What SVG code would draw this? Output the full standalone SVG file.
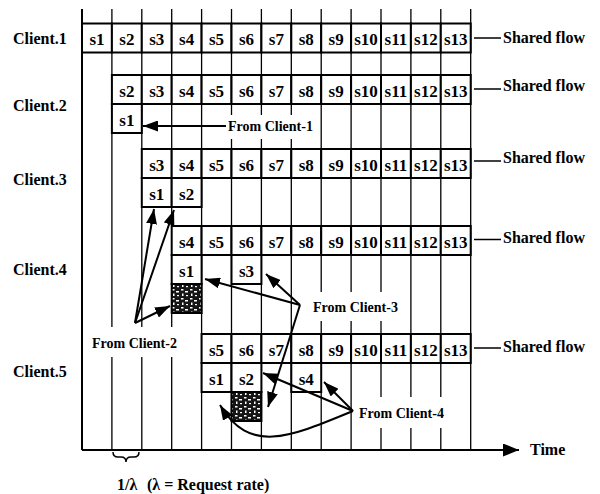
<svg xmlns="http://www.w3.org/2000/svg" width="600" height="494" viewBox="0 0 600 494">
<style>
.grid{stroke:#000;stroke-width:1.3;fill:none}
.axis{stroke:#000;stroke-width:2;fill:none}
.cell{fill:#fff;stroke:#000;stroke-width:2}
.shade{fill:url(#noise);stroke:#000;stroke-width:2}
.c{font-family:"Liberation Serif",serif;font-weight:bold;font-size:17px;text-anchor:middle;fill:#000}
.t{font-family:"Liberation Serif",serif;font-weight:bold;font-size:16px;fill:#000}
.f{font-family:"Liberation Serif",serif;font-weight:bold;font-size:14px;fill:#000}
.bg{fill:#fff;stroke:none}
.arr{stroke:#000;stroke-width:2;fill:none;marker-end:url(#ah)}
.sf{stroke:#000;stroke-width:1.5}
</style>
<defs>
<marker id="ah" viewBox="0 0 15 11" refX="15" refY="5.5" markerWidth="15" markerHeight="11" markerUnits="userSpaceOnUse" orient="auto"><path d="M0,0 L15,5.5 L0,11 Z" fill="#000"/></marker>
<marker id="ahT" viewBox="0 0 16 13" refX="16" refY="6.5" markerWidth="16" markerHeight="13" markerUnits="userSpaceOnUse" orient="auto"><path d="M0,0 L16,6.5 L0,13 Z" fill="#000"/></marker>
<pattern id="noise" width="9" height="9" patternUnits="userSpaceOnUse"><rect width="9" height="9" fill="#151515"/><rect x="1" y="1" width="2.5" height="1.5" fill="#fff"/><rect x="5" y="3" width="3" height="1.5" fill="#fff"/><rect x="2" y="5.5" width="1.5" height="2.5" fill="#fff"/><rect x="6" y="7" width="2" height="1.2" fill="#fff"/></pattern>
</defs>
<rect width="600" height="494" fill="#fff"/>
<g id="timeline">
<path class="grid" d="M111.9,9V450M141.8,9V450M171.7,9V450M201.6,9V450M231.5,9V450M261.4,9V450M291.3,9V450M321.2,9V450M351.1,9V450M381,9V450M410.9,9V450M440.8,9V450M470.7,9V450"/>
<path class="axis" d="M82,9V450"/>
<line class="axis" x1="82" y1="450" x2="519" y2="450" marker-end="url(#ahT)"/>
<text class="t" x="530" y="455">Time</text>
<path class="axis" style="stroke-width:1.5" d="M113,452 Q113,457 118,457 L121,457 Q126,457 126,462 Q126,457 131,457 L134,457 Q139,457 139,452"/>
<text class="t" x="117" y="490">1/λ</text>
<text class="t" x="147" y="490">(λ = Request rate)</text>
</g>
<g id="client1">
<text class="t" x="13" y="44">Client.1</text>
<rect class="cell" x="82" y="23.5" width="29.9" height="29"/>
<rect class="cell" x="111.9" y="23.5" width="29.9" height="29"/>
<rect class="cell" x="141.8" y="23.5" width="29.9" height="29"/>
<rect class="cell" x="171.7" y="23.5" width="29.9" height="29"/>
<rect class="cell" x="201.6" y="23.5" width="29.9" height="29"/>
<rect class="cell" x="231.5" y="23.5" width="29.9" height="29"/>
<rect class="cell" x="261.4" y="23.5" width="29.9" height="29"/>
<rect class="cell" x="291.3" y="23.5" width="29.9" height="29"/>
<rect class="cell" x="321.2" y="23.5" width="29.9" height="29"/>
<rect class="cell" x="351.1" y="23.5" width="29.9" height="29"/>
<rect class="cell" x="381" y="23.5" width="29.9" height="29"/>
<rect class="cell" x="410.9" y="23.5" width="29.9" height="29"/>
<rect class="cell" x="440.8" y="23.5" width="29.9" height="29"/>
<text class="c" x="96.95" y="45">s1</text><text class="c" x="126.85" y="45">s2</text><text class="c" x="156.75" y="45">s3</text><text class="c" x="186.65" y="45">s4</text><text class="c" x="216.55" y="45">s5</text><text class="c" x="246.45" y="45">s6</text><text class="c" x="276.35" y="45">s7</text><text class="c" x="306.25" y="45">s8</text><text class="c" x="336.15" y="45">s9</text><text class="c" x="366.05" y="45">s10</text><text class="c" x="395.95" y="45">s11</text><text class="c" x="425.85" y="45">s12</text><text class="c" x="455.75" y="45">s13</text>
<line class="sf" x1="474" y1="38" x2="501" y2="38"/>
<text class="t" x="503" y="43">Shared flow</text>
</g>
<g id="client2">
<text class="t" x="13" y="111">Client.2</text>
<rect class="cell" x="111.9" y="75" width="29.9" height="29"/>
<rect class="cell" x="141.8" y="75" width="29.9" height="29"/>
<rect class="cell" x="171.7" y="75" width="29.9" height="29"/>
<rect class="cell" x="201.6" y="75" width="29.9" height="29"/>
<rect class="cell" x="231.5" y="75" width="29.9" height="29"/>
<rect class="cell" x="261.4" y="75" width="29.9" height="29"/>
<rect class="cell" x="291.3" y="75" width="29.9" height="29"/>
<rect class="cell" x="321.2" y="75" width="29.9" height="29"/>
<rect class="cell" x="351.1" y="75" width="29.9" height="29"/>
<rect class="cell" x="381" y="75" width="29.9" height="29"/>
<rect class="cell" x="410.9" y="75" width="29.9" height="29"/>
<rect class="cell" x="440.8" y="75" width="29.9" height="29"/>
<rect class="cell" x="111.9" y="104" width="29.9" height="29"/>
<text class="c" x="126.85" y="96.5">s2</text><text class="c" x="156.75" y="96.5">s3</text><text class="c" x="186.65" y="96.5">s4</text><text class="c" x="216.55" y="96.5">s5</text><text class="c" x="246.45" y="96.5">s6</text><text class="c" x="276.35" y="96.5">s7</text><text class="c" x="306.25" y="96.5">s8</text><text class="c" x="336.15" y="96.5">s9</text><text class="c" x="366.05" y="96.5">s10</text><text class="c" x="395.95" y="96.5">s11</text><text class="c" x="425.85" y="96.5">s12</text><text class="c" x="455.75" y="96.5">s13</text>
<text class="c" x="126.85" y="125.5">s1</text>
<line class="sf" x1="474" y1="89" x2="501" y2="89"/>
<text class="t" x="503" y="91">Shared flow</text>
</g>
<g id="client3">
<text class="t" x="13" y="185">Client.3</text>
<rect class="cell" x="141.8" y="149" width="29.9" height="29"/>
<rect class="cell" x="171.7" y="149" width="29.9" height="29"/>
<rect class="cell" x="201.6" y="149" width="29.9" height="29"/>
<rect class="cell" x="231.5" y="149" width="29.9" height="29"/>
<rect class="cell" x="261.4" y="149" width="29.9" height="29"/>
<rect class="cell" x="291.3" y="149" width="29.9" height="29"/>
<rect class="cell" x="321.2" y="149" width="29.9" height="29"/>
<rect class="cell" x="351.1" y="149" width="29.9" height="29"/>
<rect class="cell" x="381" y="149" width="29.9" height="29"/>
<rect class="cell" x="410.9" y="149" width="29.9" height="29"/>
<rect class="cell" x="440.8" y="149" width="29.9" height="29"/>
<rect class="cell" x="141.8" y="178" width="29.9" height="29"/>
<rect class="cell" x="171.7" y="178" width="29.9" height="29"/>
<text class="c" x="156.75" y="170.5">s3</text><text class="c" x="186.65" y="170.5">s4</text><text class="c" x="216.55" y="170.5">s5</text><text class="c" x="246.45" y="170.5">s6</text><text class="c" x="276.35" y="170.5">s7</text><text class="c" x="306.25" y="170.5">s8</text><text class="c" x="336.15" y="170.5">s9</text><text class="c" x="366.05" y="170.5">s10</text><text class="c" x="395.95" y="170.5">s11</text><text class="c" x="425.85" y="170.5">s12</text><text class="c" x="455.75" y="170.5">s13</text>
<text class="c" x="156.75" y="199.5">s1</text><text class="c" x="186.65" y="199.5">s2</text>
<line class="sf" x1="474" y1="161" x2="501" y2="161"/>
<text class="t" x="503" y="163">Shared flow</text>
</g>
<g id="client4">
<text class="t" x="13" y="275">Client.4</text>
<rect class="cell" x="171.7" y="226" width="29.9" height="29"/>
<rect class="cell" x="201.6" y="226" width="29.9" height="29"/>
<rect class="cell" x="231.5" y="226" width="29.9" height="29"/>
<rect class="cell" x="261.4" y="226" width="29.9" height="29"/>
<rect class="cell" x="291.3" y="226" width="29.9" height="29"/>
<rect class="cell" x="321.2" y="226" width="29.9" height="29"/>
<rect class="cell" x="351.1" y="226" width="29.9" height="29"/>
<rect class="cell" x="381" y="226" width="29.9" height="29"/>
<rect class="cell" x="410.9" y="226" width="29.9" height="29"/>
<rect class="cell" x="440.8" y="226" width="29.9" height="29"/>
<rect class="cell" x="171.7" y="255" width="29.9" height="29"/>
<rect class="cell" x="231.5" y="255" width="29.9" height="29"/>
<rect class="shade" x="171.7" y="284" width="29.9" height="29"/>
<text class="c" x="186.65" y="247.5">s4</text><text class="c" x="216.55" y="247.5">s5</text><text class="c" x="246.45" y="247.5">s6</text><text class="c" x="276.35" y="247.5">s7</text><text class="c" x="306.25" y="247.5">s8</text><text class="c" x="336.15" y="247.5">s9</text><text class="c" x="366.05" y="247.5">s10</text><text class="c" x="395.95" y="247.5">s11</text><text class="c" x="425.85" y="247.5">s12</text><text class="c" x="455.75" y="247.5">s13</text>
<text class="c" x="186.65" y="276.5">s1</text><text class="c" x="246.45" y="276.5">s3</text>
<line class="sf" x1="474" y1="239.5" x2="501" y2="239.5"/>
<text class="t" x="503" y="243">Shared flow</text>
</g>
<g id="client5">
<text class="t" x="13" y="377">Client.5</text>
<rect class="cell" x="201.6" y="334" width="29.9" height="29"/>
<rect class="cell" x="231.5" y="334" width="29.9" height="29"/>
<rect class="cell" x="261.4" y="334" width="29.9" height="29"/>
<rect class="cell" x="291.3" y="334" width="29.9" height="29"/>
<rect class="cell" x="321.2" y="334" width="29.9" height="29"/>
<rect class="cell" x="351.1" y="334" width="29.9" height="29"/>
<rect class="cell" x="381" y="334" width="29.9" height="29"/>
<rect class="cell" x="410.9" y="334" width="29.9" height="29"/>
<rect class="cell" x="440.8" y="334" width="29.9" height="29"/>
<rect class="cell" x="201.6" y="363" width="29.9" height="29"/>
<rect class="cell" x="231.5" y="363" width="29.9" height="29"/>
<rect class="cell" x="291.3" y="363" width="29.9" height="29"/>
<rect class="shade" x="231.5" y="392" width="29.9" height="29"/>
<text class="c" x="216.55" y="355.5">s5</text><text class="c" x="246.45" y="355.5">s6</text><text class="c" x="276.35" y="355.5">s7</text><text class="c" x="306.25" y="355.5">s8</text><text class="c" x="336.15" y="355.5">s9</text><text class="c" x="366.05" y="355.5">s10</text><text class="c" x="395.95" y="355.5">s11</text><text class="c" x="425.85" y="355.5">s12</text><text class="c" x="455.75" y="355.5">s13</text>
<text class="c" x="216.55" y="384.5">s1</text><text class="c" x="246.45" y="384.5">s2</text><text class="c" x="306.25" y="384.5">s4</text>
<line class="sf" x1="474" y1="348" x2="501" y2="348"/>
<text class="t" x="503" y="352">Shared flow</text>
</g>
<g id="from-client-1">
<rect class="bg" x="224" y="115" width="90" height="24"/>
<text class="f" x="228" y="131">From Client-1</text>
</g>
<g id="from-client-2">
<rect class="bg" x="88" y="327" width="91" height="30"/>
<text class="f" x="92" y="348">From Client-2</text>
</g>
<g id="from-client-3">
<rect class="bg" x="309" y="292" width="92" height="29"/>
<text class="f" x="313" y="312">From Client-3</text>
</g>
<g id="from-client-4">
<rect class="bg" x="356" y="397" width="92" height="31"/>
<text class="f" x="359" y="418">From Client-4</text>
</g>
<g id="connectors">
<line class="arr" x1="226" y1="126" x2="143" y2="126"/>
<line class="arr" x1="135" y1="323" x2="154" y2="209"/>
<line class="arr" x1="135" y1="323" x2="174" y2="210"/>
<line class="arr" x1="135" y1="323" x2="170" y2="306"/>
<line class="arr" x1="300" y1="305" x2="205" y2="279"/>
<line class="arr" x1="300" y1="305" x2="266" y2="274"/>
<line class="arr" x1="300" y1="305" x2="268" y2="407"/>
<line class="arr" x1="353" y1="411" x2="324" y2="382"/>
<line class="arr" x1="353" y1="411" x2="263" y2="373"/>
<path class="arr" d="M353,411 C290,437 250,455 220,405"/>
</g>
</svg>
